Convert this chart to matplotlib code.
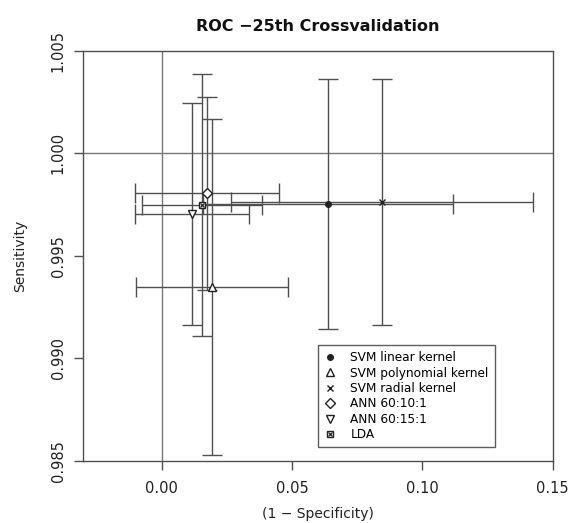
import matplotlib
matplotlib.use("Agg")
import matplotlib.pyplot as plt
from matplotlib.legend_handler import HandlerTuple
import numpy as np

# ROC points (1 - specificity, sensitivity) with half-widths of the error bars
methods = ["SVM linear kernel", "SVM polynomial kernel", "SVM radial kernel",
           "ANN 60:10:1", "ANN 60:15:1", "LDA"]
fpr = [0.0637, 0.0192, 0.0844, 0.0173, 0.0115, 0.0154]
sens = [0.99751, 0.99349, 0.99763, 0.99804, 0.99703, 0.99747]
fpr_err = [0.0480, 0.0292, 0.0580, 0.0276, 0.0218, 0.0230]
sens_err = [0.0061, 0.0082, 0.0060, 0.0047, 0.0054, 0.0064]

xticks = [0.00, 0.05, 0.10, 0.15]
yticks = [0.985, 0.990, 0.995, 1.000, 1.005]

line_col = "#505050"
ref_col = "#777777"
mk_col = "#222222"

# (marker, size, filled) per method; LDA gets a boxed cross built from two markers
styles = [("o", 4, True), ("^", 6, False), ("x", 5, False),
          ("D", 5, False), ("v", 6, False), ("s", 5, False)]

plt.rcParams["font.family"] = "DejaVu Sans"

fig = plt.figure(figsize=(5.72, 5.23), dpi=100)
ax = fig.add_axes([0.1456, 0.1191, 0.8207, 0.7840])

# reference lines at perfect sensitivity / zero false positive rate
ax.axhline(1.0, color=ref_col, lw=1.0, zorder=1)
ax.axvline(0.0, color=ref_col, lw=1.0, zorder=1)

handles = []
for i, name in enumerate(methods):
    ax.errorbar(fpr[i], sens[i], xerr=fpr_err[i], yerr=sens_err[i],
                fmt="none", ecolor=line_col, elinewidth=1.0,
                capsize=7.5, capthick=1.0, zorder=2)
    mk, ms, filled = styles[i]
    h, = ax.plot(fpr[i], sens[i], linestyle="none", marker=mk, markersize=ms,
                 markerfacecolor=mk_col if filled else "white",
                 markeredgecolor=mk_col, markeredgewidth=1.0, zorder=3)
    if name == "LDA":
        hx, = ax.plot(fpr[i], sens[i], linestyle="none", marker="x",
                      markersize=ms - 1.5, markeredgecolor=mk_col,
                      markeredgewidth=0.9, zorder=4)
        h = (h, hx)
    handles.append(h)

ax.set_xlim(-0.0301, 0.15)
ax.set_ylim(0.985, 1.005)
ax.set_xticks(xticks)
ax.set_xticklabels([f"{v:.2f}" for v in xticks])
ax.set_yticks(yticks)
ax.set_yticklabels([f"{v:.3f}" for v in yticks])

for s in ax.spines.values():
    s.set_color(line_col)
    s.set_linewidth(1.0)

ax.tick_params(axis="both", colors=line_col, labelcolor="#222222",
               length=6.7, width=1.0, labelsize=10.5)
ax.tick_params(axis="x", pad=8)
ax.tick_params(axis="y", pad=6, labelrotation=90)
for lab in ax.get_yticklabels():
    lab.set_va("center")

ax.set_xlabel("(1 \u2212 Specificity)", fontsize=10, color="#222222")
ax.xaxis.set_label_coords(0.5, -0.13)
ax.xaxis.label.set_va("center")
ax.set_ylabel("Sensitivity", fontsize=10, color="#222222")
ax.yaxis.set_label_coords(-0.135, 0.5)
ax.yaxis.label.set_va("center")

title = ax.set_title("ROC \u221225th Crossvalidation", fontsize=11.5,
                     fontweight="bold", y=1.058, pad=0, color="#111111")
title.set_va("center")

leg = ax.legend(handles, methods, loc="lower left",
                bbox_to_anchor=(0.5006, 0.0327),
                handler_map={tuple: HandlerTuple(ndivide=1, pad=0)},
                fontsize=8.7, frameon=True, fancybox=False,
                handlelength=1.0, handletextpad=1.15, borderpad=0.5,
                labelspacing=0.2, borderaxespad=0)
leg.get_frame().set_edgecolor("#333333")
leg.get_frame().set_linewidth(1.0)

fig.savefig("out.png", dpi=100)
